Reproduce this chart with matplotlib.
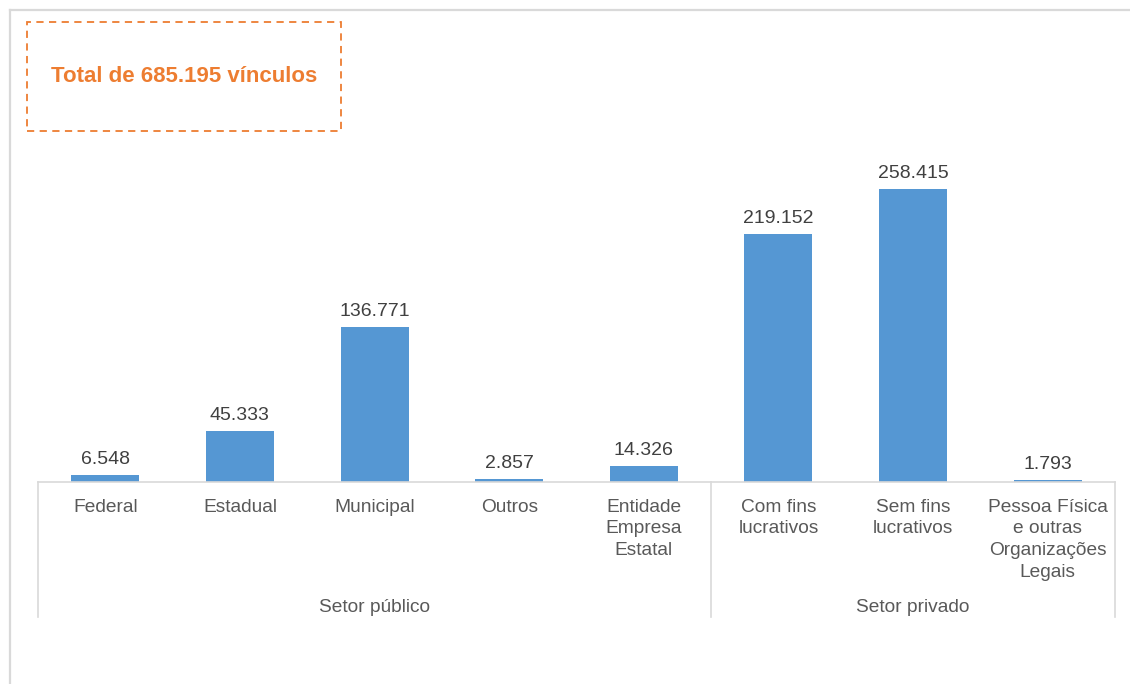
import matplotlib.pyplot as plt
from matplotlib.patches import Rectangle
from matplotlib.lines import Line2D
import matplotlib.transforms as mtransforms

categories = ['Federal', 'Estadual', 'Municipal', 'Outros', 'Entidade\nEmpresa\nEstatal',
              'Com fins\nlucrativos', 'Sem fins\nlucrativos',
              'Pessoa Física\ne outras\nOrganizações\nLegais']
values = [6548, 45333, 136771, 2857, 14326, 219152, 258415, 1793]
groups = ['Setor público', 'Setor privado']
group_sizes = [5, 3]
total_text = 'Total de 685.195 vínculos'

W, H = 1130, 684
plt.rcParams['font.family'] = ['Liberation Sans', 'DejaVu Sans']
fig = plt.figure(figsize=(W / 100, H / 100), dpi=100)

def fx(px):
    return px / W

def fy(py):
    return 1 - py / H

base_y = 482
ax = fig.add_axes([fx(38), fy(base_y), fx(1115) - fx(38), fy(142) - fy(base_y)])

x = list(range(len(values)))
bars = ax.bar(x, values, width=0.505, color='#5597D3')
ax.set_xlim(-0.5, len(values) - 0.5)
ax.set_ylim(0, 300000)

for b, v in zip(bars, values):
    ax.annotate(f'{v:,}'.replace(',', '.'), (b.get_x() + b.get_width() / 2, v),
                xytext=(0, 5), textcoords='offset points', ha='center', va='bottom',
                fontsize=14, color='#404040')

for s in ['top', 'left', 'right']:
    ax.spines[s].set_visible(False)
ax.spines['bottom'].set_color('#D9D9D9')
ax.spines['bottom'].set_linewidth(1.2)
ax.set_yticks([])
ax.set_xticks(x)
ax.set_xticklabels(categories, fontsize=13.8, color='#595959', linespacing=1.37)
ax.tick_params(axis='x', length=0, pad=12)

# group dividers and labels below the axis
trans = mtransforms.blended_transform_factory(ax.transData, fig.transFigure)
edges = [-0.5]
for n in group_sizes:
    edges.append(edges[-1] + n)
for e in edges:
    fig.add_artist(Line2D([e, e], [fy(base_y), fy(617)], transform=trans,
                          color='#D9D9D9', lw=1.2))
start = -0.5
for g, n in zip(groups, group_sizes):
    fig.text((start + start + n) / 2, fy(608), g, transform=trans, ha='center',
             va='center', fontsize=13.8, color='#595959')
    start += n

# outer frame
fig.add_artist(Line2D([fx(10), 1], [fy(10), fy(10)], color='#D9D9D9', lw=1.6))
fig.add_artist(Line2D([fx(10), fx(10)], [fy(10), 0], color='#D9D9D9', lw=1.6))

# total box
fig.add_artist(Rectangle((fx(27), fy(131)), fx(341) - fx(27), fy(22) - fy(131),
                         transform=fig.transFigure, fill=False, edgecolor='#ED7D31',
                         lw=1.3, linestyle=(0, (4, 3))))
fig.text(fx(184), fy(77), total_text, ha='center', va='center', fontsize=16,
         fontweight='bold', color='#ED7D31')

fig.savefig('out.png', dpi=100)
